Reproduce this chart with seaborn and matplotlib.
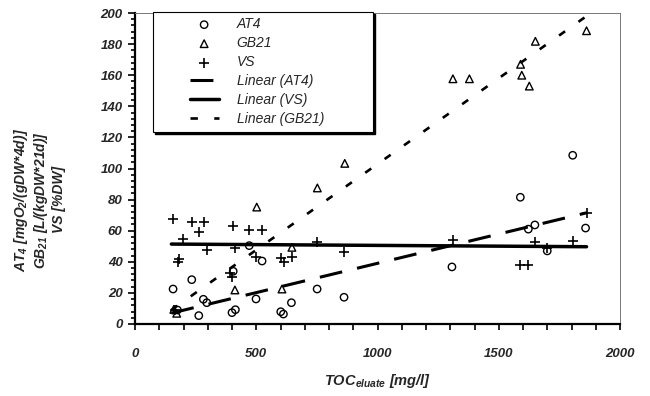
import numpy as np
import matplotlib
matplotlib.use("Agg")
import matplotlib.pyplot as plt
from matplotlib.patches import Rectangle
from matplotlib.ticker import MultipleLocator
import seaborn as sns

# values
at4_x = [157, 175, 234, 263, 282, 296, 400, 405, 414, 471, 499, 524, 601, 612,
         645, 751, 862, 1307, 1589, 1622, 1649, 1700, 1805, 1858]
at4_y = [22.5, 9, 28.5, 5.4, 15.9, 13.7, 7.3, 33.9, 9.2, 50.4, 16.1, 40.5, 7.9, 6.4,
         13.7, 22.5, 17.2, 36.7, 81.5, 61, 63.7, 47, 108.5, 61.7]

gb21_x = [160, 172, 412, 502, 606, 647, 752, 865, 1311, 1379, 1590, 1595, 1626, 1651, 1862]
gb21_y = [9.4, 6.9, 21.9, 75.2, 22.5, 49.3, 87.5, 103.3, 157.7, 157.7, 167, 160, 153, 181.8, 188.6]

vs_x = [158, 165, 177, 183, 197, 234, 264, 285, 298, 392, 399, 405, 414, 471, 499, 525,
        602, 613, 646, 749, 863, 1310, 1588, 1619, 1649, 1700, 1805, 1862]
vs_y = [67.5, 9, 39.9, 42, 54.7, 65.4, 59.4, 65.4, 47.4, 33, 30, 62.8, 48.9, 60.2, 43.3, 60.6,
        42.6, 40, 42.9, 53, 46, 54, 38, 38, 52.5, 49, 53.4, 71.6]

# trend lines (Excel "Linear"), endpoints
fit_x = [150, 1862]
fit_at4 = [7, 71.5]
fit_vs = [51.4, 49.7]
fit_gb21 = [9, 198]

sns.set_style("ticks")
plt.rcParams["font.family"] = ["Liberation Sans", "DejaVu Sans"]
plt.rcParams["mathtext.fontset"] = "custom"
plt.rcParams["mathtext.rm"] = "Liberation Sans:italic:bold"
plt.rcParams["mathtext.it"] = "Liberation Sans:italic:bold"
plt.rcParams["mathtext.bf"] = "Liberation Sans:italic:bold"

fig = plt.figure(figsize=(6.5, 3.96), dpi=100)
ax = fig.add_axes([135 / 650, 1 - 324 / 396, 485 / 650, 311 / 396])

sns.scatterplot(x=at4_x, y=at4_y, marker="o", s=28, facecolor="none",
                edgecolor="black", linewidth=1, label="AT4", ax=ax, zorder=3)
sns.scatterplot(x=gb21_x, y=gb21_y, marker="^", s=30, facecolor="none",
                edgecolor="black", linewidth=1, label="GB21", ax=ax, zorder=3)
sns.scatterplot(x=vs_x, y=vs_y, marker="+", s=50, color="black",
                linewidth=1.2, label="VS", ax=ax, zorder=3)

sns.lineplot(x=fit_x, y=fit_at4, color="black", lw=2.2,
             label="Linear (AT4)", ax=ax)
ax.lines[-1].set_dashes((7.5, 5))
sns.lineplot(x=fit_x, y=fit_vs, color="black", lw=2.5,
             label="Linear (VS)", ax=ax)
sns.lineplot(x=fit_x, y=fit_gb21, color="black", lw=1.9,
             label="Linear (GB21)", ax=ax)
ax.lines[-1].set_dashes((2.8, 6.2))

ax.set_xlim(0, 2000)
ax.set_ylim(0, 200)
ax.xaxis.set_major_locator(MultipleLocator(500))
ax.xaxis.set_minor_locator(MultipleLocator(100))
ax.yaxis.set_major_locator(MultipleLocator(20))
ax.yaxis.set_minor_locator(MultipleLocator(4))
ax.tick_params(axis="both", which="both", direction="out", color="black", width=1.2)
ax.tick_params(axis="y", which="major", length=5, pad=4)
ax.tick_params(axis="y", which="minor", length=3)
ax.tick_params(axis="x", which="both", length=4, pad=13)
for lab in ax.get_xticklabels() + ax.get_yticklabels():
    lab.set_fontsize(9.5)
    lab.set_fontweight("bold")
    lab.set_fontstyle("italic")

for s in ["left", "bottom"]:
    ax.spines[s].set_linewidth(1.6)
    ax.spines[s].set_color("black")
for s in ["top", "right"]:
    ax.spines[s].set_linewidth(0.7)
    ax.spines[s].set_color("#777777")

ax.set_xlabel(r"TOC$_{eluate}$ [mg/l]", fontsize=10.5, fontweight="bold", fontstyle="italic")
ax.xaxis.set_label_coords(0.5, -0.155)
ax.set_ylabel("AT$_4$ [mgO$_2$/(gDW*4d)]\nGB$_{21}$ [L/(kgDW*21d)]\nVS [%DW]",
              fontsize=10, fontweight="bold", fontstyle="italic", linespacing=1.15)
ax.yaxis.set_label_coords(-0.143, 0.40)

# legend box with a black drop shadow, drawn separately so the entries can sit centred
box = dict(xy=(0.037, 0.618), width=0.4536, height=0.386, transform=ax.transAxes,
           clip_on=False)
ax.add_patch(Rectangle(**box, facecolor="black", edgecolor="black", zorder=4.8))
ax.patches[-1].set_x(0.037 + 2.5 / 485)
ax.patches[-1].set_y(0.618 - 2.5 / 311)
ax.add_patch(Rectangle(**box, facecolor="white", edgecolor="black", lw=0.8, zorder=4.9))

handles, labels = ax.get_legend_handles_labels()
leg = ax.legend(handles, labels, loc="upper left",
                bbox_to_anchor=(0.101, 1.004), frameon=False,
                prop={"style": "italic", "size": 10}, labelspacing=0.36,
                handlelength=2.1, handletextpad=1.3, borderpad=0.4,
                borderaxespad=0)
leg.set_zorder(5)

plt.savefig("out.png", dpi=100)
